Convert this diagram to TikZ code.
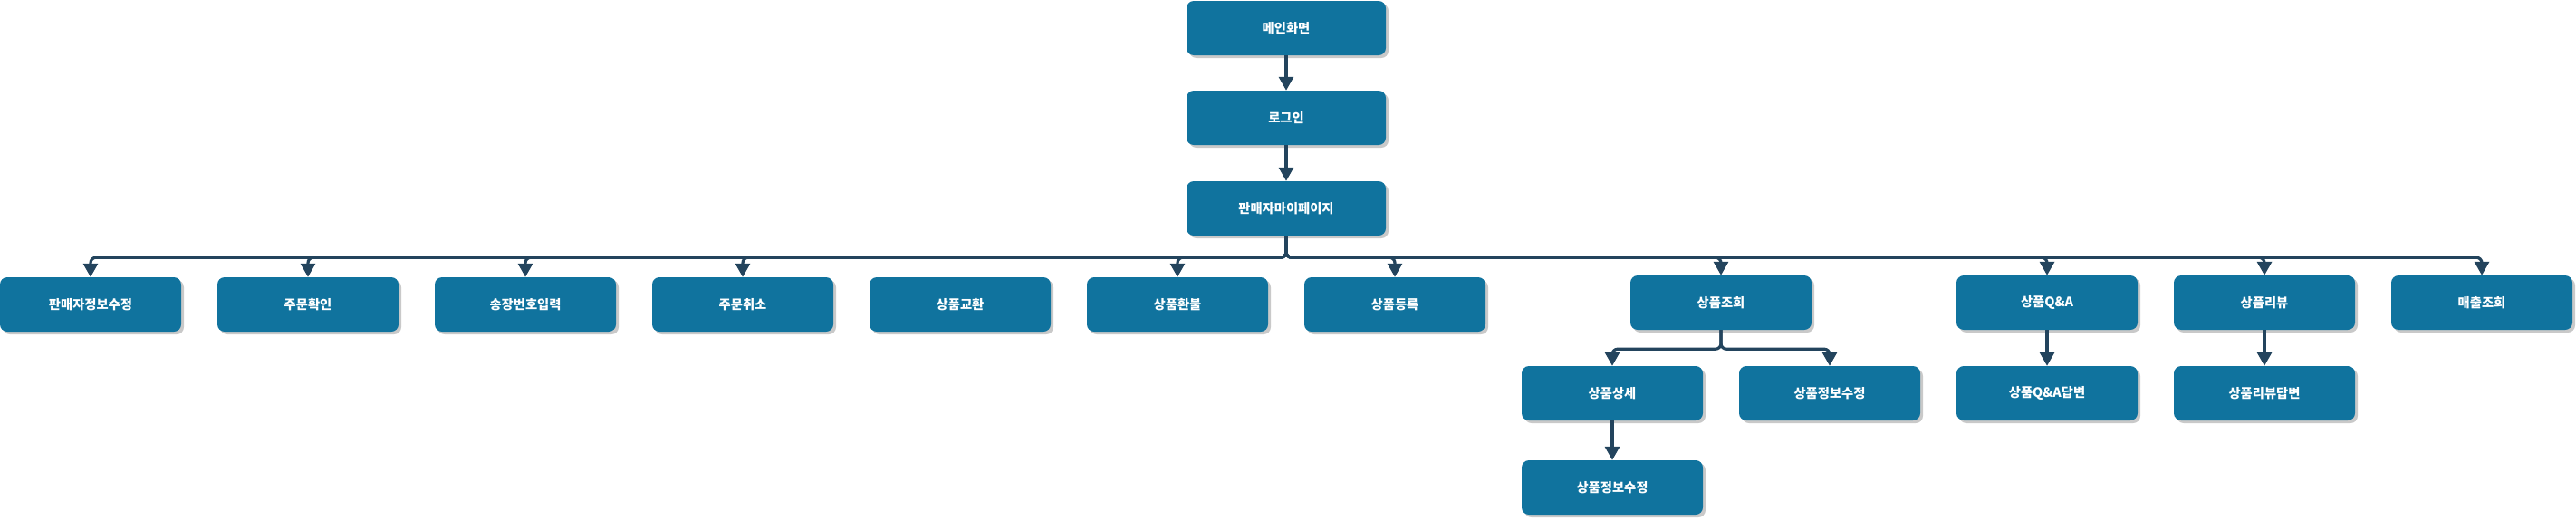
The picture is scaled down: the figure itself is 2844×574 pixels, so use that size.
\documentclass[tikz,border=0pt]{standalone}
\usepackage{fontspec}
\setmainfont{Noto Sans CJK KR}
\usetikzlibrary{arrows.meta,shadows}
\definecolor{boxblue}{HTML}{10739E}
\definecolor{linkblue}{HTML}{23445D}
\tikzset{
  page/.style={draw=none,fill=boxblue,rounded corners=8pt,minimum width=200pt,minimum height=60pt,inner sep=0pt,text=white,font=\bfseries\fontsize{14.3}{17}\selectfont,drop shadow={shadow xshift=3pt,shadow yshift=-3pt,fill=black!30,opacity=0.7}},
  widepage/.style={page,minimum width=220pt},
  link/.style={draw=linkblue,line width=3.2pt,rounded corners=6pt,-{Triangle[width=16pt,length=15pt]}}
}
\begin{document}
\begin{tikzpicture}[x=1pt,y=-1pt]
    \useasboundingbox (0,0) rectangle (2844,574);

    \node[widepage] (main) at (1420,31) {메인화면};
    \node[widepage] (login) at (1420,130) {로그인};
    \node[widepage] (mypage) at (1420,230) {판매자마이페이지};

    \path (main) edge[link] (login);
    \path (login) edge[link] (mypage);

    \node[page] (info) at (100,336) {판매자정보수정};
    \node[page] (order) at (340,336) {주문확인};
    \node[page] (invoice) at (580,336) {송장번호입력};
    \node[page] (cancel) at (820,336) {주문취소};
    \node[page] (exchange) at (1060,336) {상품교환};
    \node[page] (refund) at (1300,336) {상품환불};
    \node[page] (register) at (1540,336) {상품등록};
    \node[page] (search) at (1900,334) {상품조회};
    \node[page] (qna) at (2260,334) {상품Q\&A};
    \node[page] (review) at (2500,334) {상품리뷰};
    \node[page] (sales) at (2740,334) {매출조회};

    \draw[link] (mypage.south) -- ++(0,24) -| (info.north);
    \draw[link] (mypage.south) -- ++(0,24) -| (order.north);
    \draw[link] (mypage.south) -- ++(0,24) -| (invoice.north);
    \draw[link] (mypage.south) -- ++(0,24) -| (cancel.north);
    \draw[link] (mypage.south) -- ++(0,24) -| (refund.north);
    \draw[link] (mypage.south) -- ++(0,24) -| (register.north);
    \draw[link] (mypage.south) -- ++(0,24) -| (search.north);
    \draw[link] (mypage.south) -- ++(0,24) -| (qna.north);
    \draw[link] (mypage.south) -- ++(0,24) -| (review.north);
    \draw[link] (mypage.south) -- ++(0,24) -| (sales.north);

    \node[page] (detail) at (1780,434) {상품상세};
    \node[page] (edit) at (2020,434) {상품정보수정};
    \node[page] (qnaans) at (2260,434) {상품Q\&A답변};
    \node[page] (reviewans) at (2500,434) {상품리뷰답변};

    \draw[link] (search.south) -- ++(0,21) -| (detail.north);
    \draw[link] (search.south) -- ++(0,21) -| (edit.north);
    \path (qna) edge[link] (qnaans);
    \path (review) edge[link] (reviewans);

    \node[page] (detailedit) at (1780,538) {상품정보수정};

    \path (detail) edge[link] (detailedit);

  \end{tikzpicture}
\end{document}
